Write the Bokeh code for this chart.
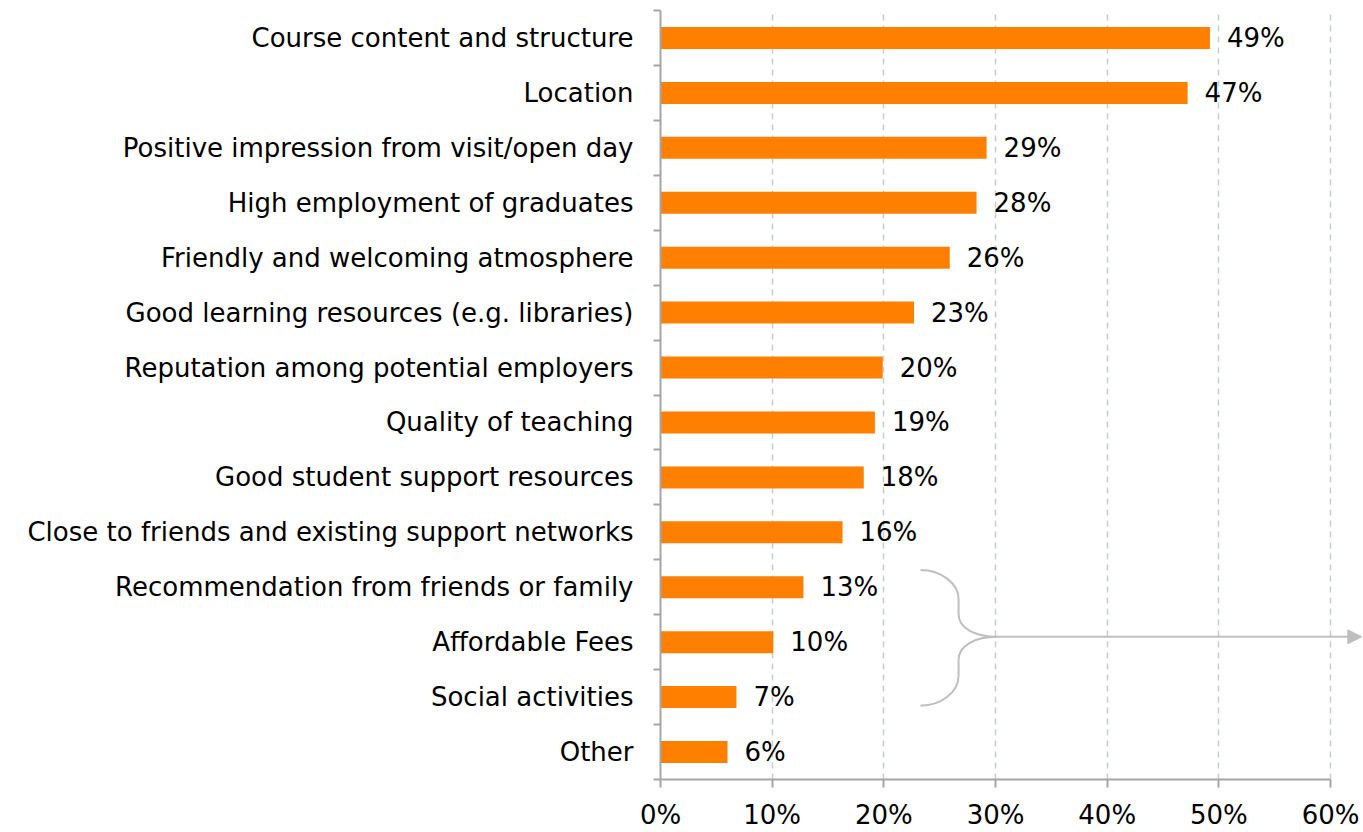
from bokeh.plotting import figure
from bokeh.models import Range1d, FixedTicker, PrintfTickFormatter, Arrow, NormalHead
from bokeh.embed import file_html
from bokeh.resources import INLINE
from bokeh.core.properties import value

categories = [
    "Course content and structure",
    "Location",
    "Positive impression from visit/open day",
    "High employment of graduates",
    "Friendly and welcoming atmosphere",
    "Good learning resources (e.g. libraries)",
    "Reputation among potential employers",
    "Quality of teaching",
    "Good student support resources",
    "Close to friends and existing support networks",
    "Recommendation from friends or family",
    "Affordable Fees",
    "Social activities",
    "Other",
]
values = [49.2, 47.2, 29.2, 28.3, 25.9, 22.7, 19.9, 19.2, 18.2, 16.3, 12.8, 10.1, 6.8, 6.0]
pct_labels = ["49%", "47%", "29%", "28%", "26%", "23%", "20%", "19%", "18%", "16%", "13%", "10%", "7%", "6%"]
x_ticks = [0, 10, 20, 30, 40, 50, 60]

FONT = "DejaVu Sans"
FS = "26px"
BAR = "#FF7F00"
AXIS = "#A6A6A6"
GRID = "#C5CFCB"
BRACE = "#BFBFBF"

n = len(categories)
ypos = [n - 0.5 - i for i in range(n)]

p = figure(width=1363, height=832, x_range=Range1d(0, 62.95), y_range=Range1d(0, n),
           output_backend="svg", toolbar_location=None,
           min_border_left=660, min_border_right=0, min_border_top=10, min_border_bottom=0)
p.outline_line_color = None
p.background_fill_color = "white"

# x axis
xa = p.xaxis[0]
xa.ticker = FixedTicker(ticks=x_ticks)
xa.formatter = PrintfTickFormatter(format="%d%%")
xa.bounds = (0, 60)
xa.axis_line_color = AXIS
xa.axis_line_width = 2
xa.major_tick_line_color = AXIS
xa.major_tick_line_width = 2
xa.major_tick_out = 8
xa.major_tick_in = 0
xa.minor_tick_line_color = None
xa.major_label_text_font = FONT
xa.major_label_text_font_size = FS
xa.major_label_text_color = "#000000"
xa.major_label_standoff = 12

# y axis
ya = p.yaxis[0]
ya.ticker = FixedTicker(ticks=ypos, minor_ticks=list(range(n + 1)))
ya.major_label_overrides = {y: c for y, c in zip(ypos, categories)}
ya.axis_line_color = AXIS
ya.axis_line_width = 2
ya.major_tick_line_color = None
ya.major_tick_out = 0
ya.major_tick_in = 0
ya.minor_tick_line_color = AXIS
ya.minor_tick_line_width = 2
ya.minor_tick_out = 7
ya.minor_tick_in = 0
ya.major_label_text_font = FONT
ya.major_label_text_font_size = FS
ya.major_label_text_color = "#000000"
ya.major_label_standoff = 20

# grid
p.xgrid.ticker = FixedTicker(ticks=x_ticks[1:])
p.xgrid.grid_line_color = GRID
p.xgrid.grid_line_dash = "6 5"
p.xgrid.grid_line_width = 1.5
p.ygrid.visible = False

# bars
p.hbar(y=ypos, left=0, right=values, height=0.4, fill_color=BAR, line_color=None)

# value labels
p.text(x=values, y=ypos, text=pct_labels, x_offset=17, text_align="left", text_baseline="middle",
       text_font=value(FONT), text_font_size=FS, text_color="#000000")

# brace grouping the last three reasons, pointing right
bx0 = [23.28, 26.69, 30.18, 26.69]
by0 = [3.813, 3.014, 2.597, 1.889]
bx1 = [26.69, 30.18, 26.69, 23.28]
by1 = [3.287, 2.597, 2.179, 1.344]
bcx0 = [25.16, 26.69, 28.12, 26.69]
bcy0 = [3.813, 2.760, 2.597, 1.580]
bcx1 = [26.69, 28.12, 26.69, 25.07]
bcy1 = [3.559, 2.597, 2.433, 1.344]
p.bezier(x0=bx0, y0=by0, x1=bx1, y1=by1, cx0=bcx0, cy0=bcy0, cx1=bcx1, cy1=bcy1,
         line_color=BRACE, line_width=2)
p.segment(x0=[26.69, 26.69], y0=[3.287, 2.179], x1=[26.69, 26.69], y1=[3.014, 1.889],
          line_color=BRACE, line_width=2)
p.add_layout(Arrow(end=NormalHead(size=14, fill_color=BRACE, line_color=BRACE),
                   x_start=30.18, y_start=2.597, x_end=62.8, y_end=2.597,
                   line_color=BRACE, line_width=2))

open("out.html", "w").write(file_html(p, INLINE))
